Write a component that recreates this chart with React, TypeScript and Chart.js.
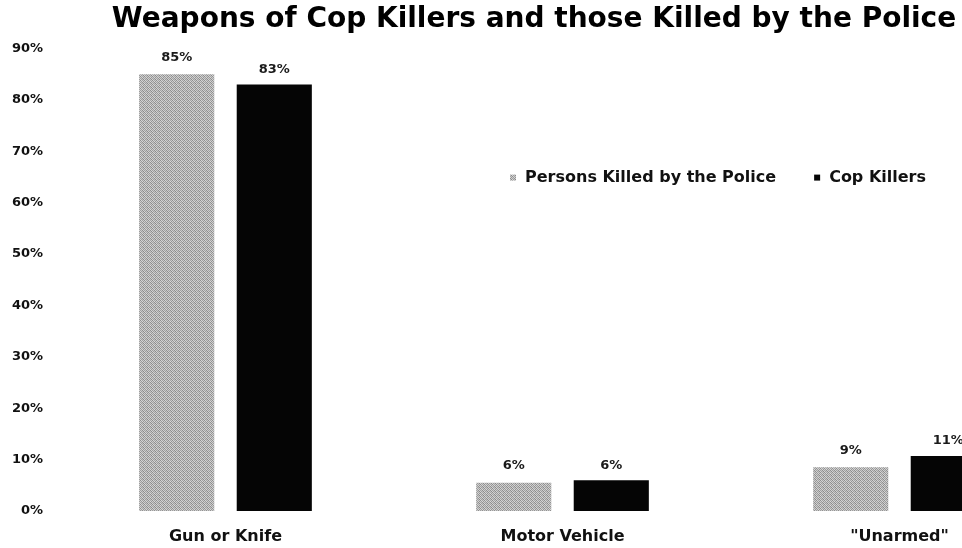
import React, { useEffect, useRef } from "react";
import { Chart, registerables } from "chart.js";

Chart.register(...registerables);

const categories = ["Gun or Knife", "Motor Vehicle", "\"Unarmed\""];
const policeKilled = [85, 5.5, 8.5];
const copKillers = [83, 6, 10.7];
const seriesLabels = ["Persons Killed by the Police", "Cop Killers"];
const titleText = "Weapons of Cop Killers and those Killed by the Police";

const FONT = "'DejaVu Sans', Verdana, sans-serif";

function makeGrayPattern(): CanvasPattern | string {
  const c = document.createElement("canvas");
  c.width = 4;
  c.height = 4;
  const g = c.getContext("2d");
  if (!g) return "#b0b0b0";
  const shades = [
    "#8e8e8e", "#d4d4d4", "#a4a4a4", "#cacaca",
    "#cfcfcf", "#9a9a9a", "#d8d8d8", "#949494",
    "#a0a0a0", "#c8c8c8", "#909090", "#d0d0d0",
    "#d6d6d6", "#9c9c9c", "#c4c4c4", "#8a8a8a",
  ];
  for (let i = 0; i < 16; i++) {
    g.fillStyle = shades[i];
    g.fillRect(i % 4, Math.floor(i / 4), 1, 1);
  }
  return g.createPattern(c, "repeat") || "#b0b0b0";
}

export default function App() {
  const ref = useRef<HTMLCanvasElement | null>(null);

  useEffect(() => {
    if (!ref.current) return;
    const gray = makeGrayPattern();
    const labelOffsets = [17, 15];

    const dataLabels = {
      id: "dataLabels",
      afterDatasetsDraw(chart: any) {
        const ctx = chart.ctx;
        ctx.save();
        ctx.font = `bold 13px ${FONT}`;
        ctx.fillStyle = "#1a1a1a";
        ctx.textAlign = "center";
        ctx.textBaseline = "middle";
        chart.data.datasets.forEach((ds: any, di: number) => {
          const meta = chart.getDatasetMeta(di);
          meta.data.forEach((bar: any, i: number) => {
            const v = ds.data[i] as number;
            ctx.fillText(Math.round(v) + "%", bar.x, bar.y - labelOffsets[di]);
          });
        });
        ctx.restore();
      },
    };

    const customLegend = {
      id: "customLegend",
      afterDraw(chart: any) {
        const ctx = chart.ctx;
        const area = chart.chartArea;
        ctx.save();
        ctx.font = `bold 16px ${FONT}`;
        ctx.textBaseline = "middle";
        ctx.textAlign = "left";
        let x = area.left + 453;
        const y = area.top + 129;
        const colors = [gray, "#050505"];
        seriesLabels.forEach((lbl, i) => {
          ctx.fillStyle = colors[i] as any;
          ctx.fillRect(x, y - 3, 6, 6);
          ctx.fillStyle = "#111";
          ctx.fillText(lbl, x + 15, y);
          x += 15 + ctx.measureText(lbl).width + 38;
        });
        ctx.restore();
      },
    };

    const chart = new Chart(ref.current, {
      type: "bar",
      data: {
        labels: categories,
        datasets: [
          {
            label: seriesLabels[0],
            data: policeKilled,
            backgroundColor: gray as any,
            categoryPercentage: 0.579,
            barPercentage: 0.77,
          },
          {
            label: seriesLabels[1],
            data: copKillers,
            backgroundColor: "#050505",
            categoryPercentage: 0.579,
            barPercentage: 0.77,
          },
        ],
      },
      options: {
        animation: false,
        responsive: false,
        devicePixelRatio: 1,
        layout: { padding: { left: 0, right: 7, top: 0, bottom: 0 } },
        plugins: {
          legend: { display: false },
          tooltip: { enabled: false },
          title: {
            display: true,
            text: titleText,
            color: "#000",
            font: { family: FONT, size: 28, weight: "bold" },
            padding: { top: 3, bottom: 12 },
          },
        },
        scales: {
          x: {
            grid: { display: false, drawTicks: false },
            border: { display: false },
            ticks: {
              color: "#111",
              font: { family: FONT, size: 16, weight: "bold" },
              padding: 16,
            },
            afterFit(scale: any) {
              scale.height = 37;
            },
          },
          y: {
            min: 0,
            max: 90,
            grid: { display: false, drawTicks: false },
            border: { display: false },
            ticks: {
              stepSize: 10,
              color: "#111",
              font: { family: FONT, size: 13, weight: "bold" },
              padding: 14,
              callback: (v: any) => v + "%",
            },
            afterFit(scale: any) {
              scale.width = 57;
            },
          },
        },
      },
      plugins: [dataLabels, customLegend],
    });

    return () => chart.destroy();
  }, []);

  return (
    <div
      style={{
        position: "absolute",
        left: 0,
        top: 0,
        width: 962,
        height: 548,
        overflow: "hidden",
        background: "#fff",
      }}
    >
      <canvas ref={ref} width={1075} height={548} style={{ display: "block" }} />
    </div>
  );
}
